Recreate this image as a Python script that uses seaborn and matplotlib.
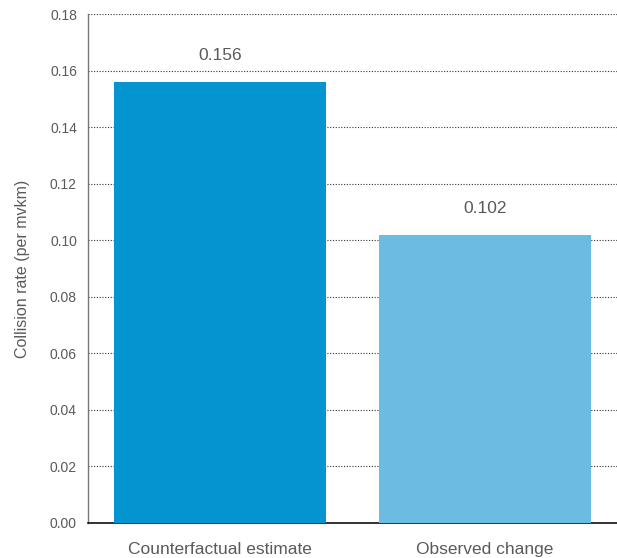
import matplotlib
matplotlib.use("Agg")
import matplotlib.pyplot as plt
import seaborn as sns
import pandas as pd

categories = ["Counterfactual estimate", "Observed change"]
values = [0.156, 0.102]
labels = ["0.156", "0.102"]
colors = ["#0494d0", "#6cbbe3"]
yticks = [0.00, 0.02, 0.04, 0.06, 0.08, 0.10, 0.12, 0.14, 0.16, 0.18]

sns.set_theme(style="white")
plt.rcParams['font.family'] = ['Liberation Sans', 'DejaVu Sans']

df = pd.DataFrame({"cat": categories, "val": values})

fig = plt.figure(figsize=(6.17, 5.58), dpi=100)
ax = fig.add_axes([88/617, 35/558, 1 - 88/617, (523-14)/558])

sns.barplot(data=df, x="cat", y="val", hue="cat", palette=colors, legend=False,
            width=0.8, saturation=1, ax=ax, zorder=3, linewidth=0, edgecolor="none")

ax.set_xlim(-0.5, 1.5)
ax.set_ylim(0, 0.18)
ax.set_yticks(yticks)
ax.set_yticklabels([f"{t:.2f}" for t in yticks])
ax.yaxis.grid(True, linestyle=(0, (1, 1.5)), color="#333333", linewidth=0.8, zorder=0)
ax.set_axisbelow(True)

for sp in ["top", "right"]:
    ax.spines[sp].set_visible(False)
ax.spines["left"].set_color("#777777")
ax.spines["left"].set_linewidth(1.0)
ax.spines["bottom"].set_color("#111111")
ax.spines["bottom"].set_linewidth(1.2)

ax.tick_params(axis="y", labelsize=10, colors="#5a5a5a", length=0, pad=8)
ax.tick_params(axis="x", labelsize=12.5, colors="#5a5a5a", length=0, pad=14)

ax.set_xlabel("")
ax.set_ylabel("Collision rate (per mvkm)", fontsize=11.5, color="#5a5a5a", labelpad=14)

for i, (v, t) in enumerate(zip(values, labels)):
    ax.text(i, v + 0.0065, t, ha="center", va="bottom", fontsize=12.5, color="#5a5a5a")

fig.savefig("out.png", dpi=100)
